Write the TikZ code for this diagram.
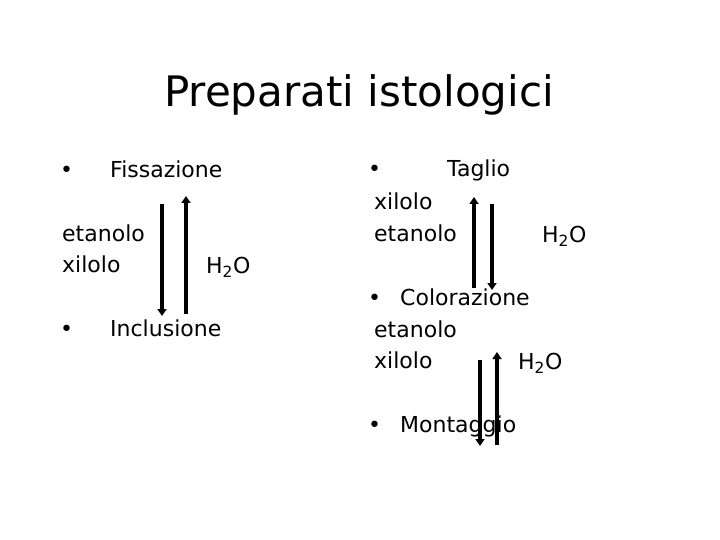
\documentclass[tikz,border=0pt]{standalone}
\usepackage{fontspec}
\setmainfont{DejaVu Sans}
\usepackage{tikz}
\usetikzlibrary{arrows.meta}
\tikzstyle{arrow} = [line width=3.5pt,-{Triangle[length=7pt,width=9pt]}]
\tikzstyle{txt} = [inner sep=0pt,anchor=base west,font=\fontsize{22}{26}\selectfont]

\begin{document}
\begin{tikzpicture}[x=1pt,y=-1pt]
\useasboundingbox (0,0) rectangle (720,540);
\node[inner sep=0pt,anchor=base,font=\fontsize{42}{48}\selectfont] (title) at (359,107) {Preparati istologici};

% left column
\node[txt] (b1) at (60,178) {•};
\node[txt] (fiss) at (110,178) {Fissazione};
\node[txt] (etl) at (62,241) {etanolo};
\node[txt] (xil) at (62,272) {xilolo};
\node[txt] (h2l) at (206,273) {H\textsubscript{2}O};
\node[txt] (b2) at (60,336) {•};
\node[txt] (incl) at (110,336) {Inclusione};
\coordinate (d1s) at (162,204);
\coordinate (d1e) at (162,316);
\coordinate (u1s) at (186,314);
\coordinate (u1e) at (186,196);
\draw[arrow] (d1s) -- (d1e);
\draw[arrow] (u1s) -- (u1e);

% right column
\node[txt] (b3) at (368,177) {•};
\node[txt] (tagl) at (447,177) {Taglio};
\node[txt] (xir) at (374,210) {xilolo};
\node[txt] (etr) at (374,241) {etanolo};
\node[txt] (h2r) at (542,242) {H\textsubscript{2}O};
\coordinate (u2s) at (474,288);
\coordinate (u2e) at (474,197);
\coordinate (d2s) at (492,204);
\coordinate (d2e) at (492,290);
\draw[arrow] (u2s) -- (u2e);
\draw[arrow] (d2s) -- (d2e);

\node[txt] (b4) at (368,305) {•};
\node[txt] (color) at (400,305) {Colorazione};
\node[txt] (etr2) at (374,337) {etanolo};
\node[txt] (xir2) at (374,368) {xilolo};
\node[txt] (h2r2) at (518,369) {H\textsubscript{2}O};
\node[txt] (b5) at (368,432) {•};
\node[txt] (mont) at (400,432) {Montaggio};
\coordinate (d3s) at (480,360);
\coordinate (d3e) at (480,446);
\coordinate (u3s) at (497,445);
\coordinate (u3e) at (497,352);
\draw[arrow] (d3s) -- (d3e);
\draw[arrow] (u3s) -- (u3e);
\end{tikzpicture}
\end{document}
